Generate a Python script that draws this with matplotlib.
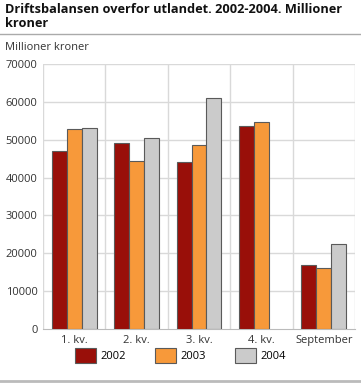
import matplotlib

matplotlib.use("Agg")
import matplotlib.pyplot as plt
import numpy as np
from matplotlib.lines import Line2D
from matplotlib.patches import Patch

CATEGORIES = ["1. kv.", "2. kv.", "3. kv.", "4. kv.", "September"]
SERIES = ["2002", "2003", "2004"]
VALUES_2002 = [47000, 49100, 44000, 53600, 16900]
VALUES_2003 = [52700, 44400, 48500, 54800, 16200]
VALUES_2004 = [53000, 50400, 60900, np.nan, 22400]
Y_TICKS = [0, 10000, 20000, 30000, 40000, 50000, 60000, 70000]

COLORS = ["#990f09", "#f7993a", "#cbcbcb"]
EDGE = "#5a5a5a"
GRID = "#d9d9d9"

plt.rcParams["font.family"] = ["Open Sans", "DejaVu Sans"]

fig = plt.figure(figsize=(3.61, 3.83), dpi=100)
ax = fig.add_axes([43 / 361, 54 / 383, 312 / 361, 265 / 383])

x = np.arange(len(CATEGORIES))
width = 0.24
for k, (vals, color) in enumerate(zip([VALUES_2002, VALUES_2003, VALUES_2004], COLORS)):
    ax.bar(x + (k - 1) * width, vals, width, color=color, edgecolor=EDGE,
           linewidth=0.8, zorder=3)

ax.set_xlim(-0.5, len(CATEGORIES) - 0.5)
ax.set_ylim(0, 70000)
ax.set_yticks(Y_TICKS)
ax.set_yticklabels([str(t) for t in Y_TICKS], fontsize=8, color="#333333")
ax.set_xticks(x)
ax.set_xticklabels(CATEGORIES, fontsize=8, color="#333333")
ax.tick_params(length=0, pad=4)

for y in Y_TICKS[1:]:
    ax.axhline(y, color=GRID, lw=1, zorder=1)
for xb in np.arange(-0.5, len(CATEGORIES), 1.0):
    ax.axvline(xb, color=GRID, lw=1, zorder=1)
for side in ["top", "right", "left"]:
    ax.spines[side].set_visible(False)
ax.spines["bottom"].set_color("#bbbbbb")

fig.text(5 / 361, 1 - 3 / 383, "Driftsbalansen overfor utlandet. 2002-2004. Millioner\nkroner",
         fontsize=9.2, fontweight="bold", va="top", ha="left", color="#111111",
         linespacing=1.1)
fig.text(5 / 361, 1 - 47 / 383, "Millioner kroner", fontsize=8, va="center", ha="left",
         color="#333333")
fig.add_artist(Line2D([0, 1], [1 - 34 / 383, 1 - 34 / 383], color="#aaaaaa", lw=1))
fig.add_artist(Line2D([0, 1], [1 - 381 / 383, 1 - 381 / 383], color="#bbbbbb", lw=2))

handles = [Patch(facecolor=c, edgecolor=EDGE, linewidth=0.8) for c in COLORS]
fig.legend(handles, SERIES, loc="center", bbox_to_anchor=(0.5, 1 - 355 / 383), ncol=3,
           frameon=False, fontsize=8, handlelength=1.9, handleheight=1.7,
           columnspacing=2.6, handletextpad=0.4)

fig.savefig("out.png", dpi=100)
